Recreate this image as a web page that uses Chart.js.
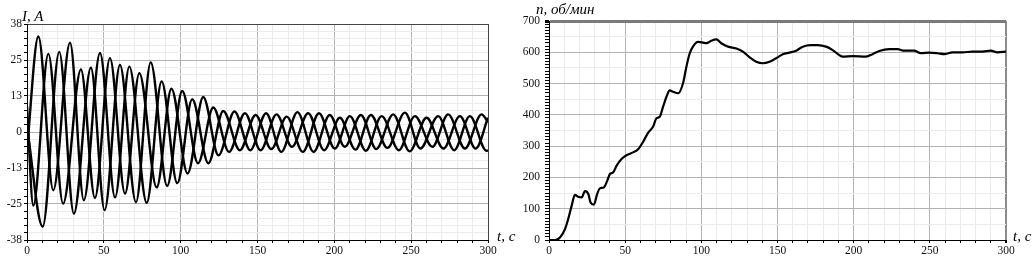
<!DOCTYPE html>
<html><head><meta charset="utf-8">
<script src="https://cdn.jsdelivr.net/npm/chart.js@4.4.1/dist/chart.umd.min.js"></script>
<style>
html,body{margin:0;padding:0;background:#fff;}
#wrap{position:relative;width:1035px;height:256px;overflow:hidden;background:#fff;}
canvas{position:absolute;top:0;}
.lbl{position:absolute;font-family:'Liberation Serif','DejaVu Serif',serif;font-style:italic;color:#000;white-space:nowrap;line-height:1;}
</style></head><body>
<div id="wrap">
<canvas id="c1" width="517" height="256" style="left:0px"></canvas>
<canvas id="c2" width="518" height="256" style="left:517px"></canvas>
<div class="lbl" style="left:22px;top:9px;font-size:15px">I, A</div>
<div class="lbl" style="left:497px;top:229px;font-size:15px">t, c</div>
<div class="lbl" style="left:536px;top:2px;font-size:15px">n, об/мин</div>
<div class="lbl" style="left:1013px;top:229px;font-size:15px">t, c</div>
</div>
<script>
// ---------- data: three phase currents, extrema [t, I] ----------
const phaseA = [[0,-6],[7.4,33.6],[17.1,-20.5],[28.0,31.4],[37.0,-24.0],[47.5,27.8],[57.3,-23.0],[66.6,23.0],[77.9,-24.9],[87.6,17.8],[97.8,-18.0],[107.5,11.5],[118.0,-11.0],[127.7,7.4],[138.5,-6.4],[148.8,6.0],[159.0,-6.0],[169.0,5.4],[179.5,-7.0],[190.0,6.6],[200.3,-5.8],[210.1,5.6],[220.5,-6.6],[230.8,5.6],[242.0,-6.4],[252.4,5.6],[263.8,-5.2],[274.1,6.2],[285.0,-5.8],[295.8,6.2],[300,3.5]];
const phaseB = [[0,9],[4.1,-25.9],[13.9,27.5],[23.5,-25.2],[35.1,22.0],[44.2,-23.2],[54.0,26.0],[63.8,-21.7],[73.1,20.7],[84.4,-19.5],[94.0,15.2],[104.5,-14.6],[114.7,12.3],[124.6,-8.2],[135.0,7.2],[145.3,-6.4],[155.6,6.6],[165.5,-7.0],[176.0,7.0],[186.5,-7.0],[197.0,6.0],[206.8,-5.2],[217.3,6.0],[227.3,-6.0],[238.3,6.2],[249.0,-6.8],[260.0,5.0],[271.0,-5.8],[281.7,5.6],[292.0,-5.8],[300,5.0]];
const phaseC = [[0,2],[10.2,-33.3],[21.0,28.2],[30.5,-28.7],[41.6,22.6],[50.5,-27.5],[60.5,23.6],[70.9,-24.7],[80.5,24.5],[91.2,-19.0],[101.0,14.4],[111.3,-11.0],[121.2,8.6],[131.5,-7.0],[141.8,6.6],[152.0,-6.4],[162.4,6.2],[172.4,-5.2],[183.0,6.6],[193.4,-6.4],[203.6,5.0],[213.7,-6.2],[223.8,6.0],[234.5,-5.6],[245.9,6.8],[256.0,-5.8],[267.6,5.6],[278.0,-6.4],[288.2,5.6],[299.0,-6.6],[300,-6.5]];

// ---------- data: rotor speed ----------
const speedT = [0,4,7.2,10.5,12.6,14.9,17,19.2,21.4,23.6,25.8,27.3,29.5,31.6,33.4,36,38.2,40,42.1,44.3,47.6,50.9,55.2,58.5,61.8,65.1,68.3,70.5,72.7,74.9,77.1,79.3,81.4,84.7,88,90.2,92.4,94.5,97.8,101.1,103.3,106.6,109.9,113.1,117.5,123,127.3,131.7,136,140.4,144.8,149.1,153.5,157.9,162.2,166.6,172,176.4,181.9,186.2,190.6,192.8,199.3,208.1,212.4,216.8,223.4,228.8,233.2,239.7,244.1,249.6,255,259.4,264.9,271.4,278,284.5,290,294.4,300];
const speedN = [0,0,8,35,67,110,144,138,136,156,147,120,113,147,165,168,189,211,216,237,259,271,280,290,314,343,362,389,394,426,458,478,474,469,501,554,597,618,633,631,629,637,641,629,618,612,602,584,570,565,570,581,594,599,605,618,623,623,618,607,591,586,588,586,594,604,610,610,605,605,597,599,597,594,600,600,602,602,605,600,602];

// ---------- tick labels ----------
const xMajor = [0,50,100,150,200,250,300];
const xLabels = ['0','50','100','150','200','250','300'];
const leftYMajor = [-38,-25.333,-12.667,0,12.667,25.333,38];
const leftYLabels = ['-38','-25','-13','0','13','25','38'];
const rightYMajor = [0,100,200,300,400,500,600,700];
const rightYLabels = ['0','100','200','300','400','500','600','700'];

const FONT = {family:"'Liberation Serif', 'DejaVu Serif', serif", size:11.5};
const MAJ = '#b2b2b2', MIN = '#ebebeb';

function stepTicks(a,b,s){const t=[];for(let v=a;v<=b+1e-9;v+=s)t.push({value:Math.round(v*1000)/1000});return t;}
function pts(arr){return arr.map(p=>({x:p[0],y:p[1]}));}

function xScale(borderCol,borderW){
  return {
    type:'linear',min:0,max:300,
    afterBuildTicks:s=>{s.ticks=stepTicks(0,300,10);},
    afterFit:s=>{s.height=16;},
    ticks:{autoSkip:false,maxRotation:0,minRotation:0,padding:1,color:'#111',font:FONT,
      callback:v=>{const i=xMajor.indexOf(v);return i>=0?xLabels[i]:'';}},
    grid:{tickLength:3,tickColor:'#000',
      color:c=>{const v=c.tick.value;if(v===300)return borderCol;return v%50===0?MAJ:MIN;},
      lineWidth:c=>c.tick.value===300?borderW:1},
    border:{color:'#000',width:1}
  };
}

const common = {responsive:false,animation:false,events:[],
  plugins:{legend:{display:false},tooltip:{enabled:false}},
  elements:{point:{radius:0}}};

new Chart(document.getElementById('c1'),{
  type:'line',
  data:{datasets:[phaseA,phaseB,phaseC].map(p=>({data:pts(p),borderColor:'#000',borderWidth:2.4,cubicInterpolationMode:'monotone',fill:false}))},
  options:Object.assign({},common,{
    layout:{padding:{left:0,right:29,top:24,bottom:0}},
    scales:{
      x:xScale('#444',1),
      y:{min:-38,max:38,
        afterBuildTicks:s=>{const t=[];for(let i=0;i<leftYMajor.length-1;i++){for(let j=0;j<5;j++)t.push({value:leftYMajor[i]+(leftYMajor[i+1]-leftYMajor[i])*j/5});}t.push({value:38});s.ticks=t;},
        afterFit:s=>{s.width=27;},
        ticks:{autoSkip:false,padding:2,color:'#111',font:FONT,
          callback:(v,i)=>i%5===0?leftYLabels[i/5]:''},
        grid:{tickLength:3,tickColor:'#000',
          color:c=>{if(c.index===30)return '#444';return c.index%5===0?MAJ:MIN;}},
        border:{color:'#000',width:1}}
    }
  })
});

new Chart(document.getElementById('c2'),{
  type:'line',
  data:{datasets:[{data:speedT.map((t,i)=>({x:t,y:speedN[i]})),borderColor:'#000',borderWidth:2.2,cubicInterpolationMode:'monotone',fill:false}]},
  options:Object.assign({},common,{
    layout:{padding:{left:0,right:29,top:21,bottom:0}},
    scales:{
      x:xScale('#8a8a8a',2),
      y:{min:0,max:700,
        afterBuildTicks:s=>{s.ticks=stepTicks(0,700,10);},
        afterFit:s=>{s.width=32;},
        ticks:{autoSkip:false,padding:5,color:'#111',font:FONT,
          callback:v=>{const i=rightYMajor.indexOf(v);return i>=0?rightYLabels[i]:'';}},
        grid:{tickLength:4,tickColor:'#000',
          color:c=>{const v=c.tick.value;if(v===700)return '#7a7a7a';if(v%100===0)return MAJ;if(v%50===0)return MIN;return 'rgba(0,0,0,0)';},
          lineWidth:c=>c.tick.value===700?3:1},
        border:{color:'#000',width:1}}
    }
  })
});
</script>
</body></html>
